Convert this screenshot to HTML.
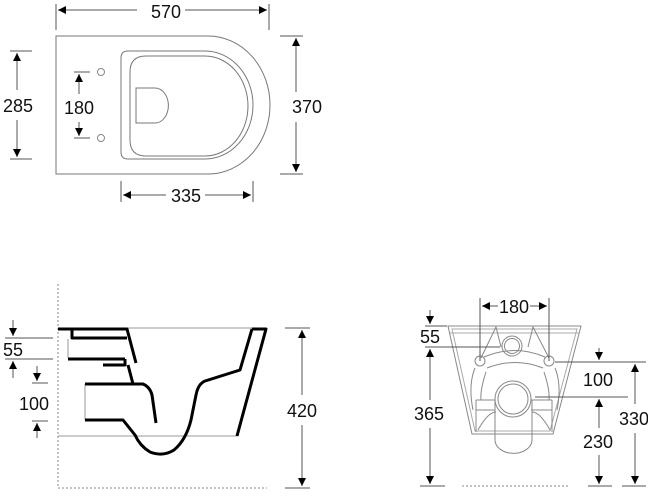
<!DOCTYPE html>
<html><head><style>
html,body{margin:0;padding:0;background:#fff;}
svg{display:block;}
text{font-family:"Liberation Sans",Arial,sans-serif;font-size:18px;fill:#111;text-anchor:middle;}
</style></head><body>
<svg width="648" height="496" viewBox="0 0 648 496" xmlns="http://www.w3.org/2000/svg">
<defs>
<marker id="a" viewBox="0 0 10 10" refX="10" refY="5" markerWidth="11" markerHeight="8" orient="auto-start-reverse" markerUnits="userSpaceOnUse"><path d="M0,0 L10,5 L0,10 z" fill="#000"/></marker>
</defs>
<g stroke="#555" stroke-width="1" fill="none">
<path d="M56,36 H208 A62,69 0 0 1 208,174 H56 Z" stroke="#777"/>
<path d="M128,51 H205 A48,54 0 0 1 205,159 H128 Q121,159 121,152 V58 Q121,51 128,51 Z" stroke="#777"/>
<path d="M146,56 H205 A43,50 0 0 1 205,156 H146 Q130,156 130,140 V72 Q130,56 146,56 Z" stroke="#777"/>
<path d="M136,88 H155 A13,17 0 0 1 155,123 H136 Z" stroke="#777"/>
<circle cx="101" cy="72" r="3.5" stroke="#888"/>
<circle cx="101" cy="138" r="3.5" stroke="#888"/>
<line x1="56" y1="4" x2="56" y2="30"/><line x1="269" y1="4" x2="269" y2="30"/>
<line x1="58" y1="10" x2="137" y2="10" marker-start="url(#a)"/><line x1="185" y1="10" x2="267" y2="10" marker-end="url(#a)"/>
<line x1="10" y1="51" x2="32" y2="51"/><line x1="10" y1="159" x2="32" y2="159"/>
<line x1="17" y1="53" x2="17" y2="90" marker-start="url(#a)"/><line x1="17" y1="120" x2="17" y2="157" marker-end="url(#a)"/>
<line x1="74" y1="72" x2="90" y2="72"/><line x1="74" y1="138" x2="90" y2="138"/>
<line x1="79" y1="74" x2="79" y2="94" marker-start="url(#a)"/><line x1="79" y1="122" x2="79" y2="136" marker-end="url(#a)"/>
<line x1="280" y1="36" x2="303" y2="36"/><line x1="280" y1="174" x2="303" y2="174"/>
<line x1="296" y1="38" x2="296" y2="92" marker-start="url(#a)"/><line x1="296" y1="122" x2="296" y2="172" marker-end="url(#a)"/>
<line x1="121" y1="181" x2="121" y2="202"/><line x1="253" y1="181" x2="253" y2="202"/>
<line x1="123" y1="195" x2="166" y2="195" marker-start="url(#a)"/><line x1="205" y1="195" x2="251" y2="195" marker-end="url(#a)"/>

<line x1="58" y1="284" x2="58" y2="488" stroke-dasharray="2,2" stroke="#888"/>
<line x1="58" y1="488" x2="267" y2="488" stroke-dasharray="2,2" stroke="#888"/>
<line x1="58" y1="328" x2="266" y2="328" stroke="#999"/>
<line x1="58" y1="436" x2="237" y2="436" stroke="#999"/>
<line x1="68" y1="339" x2="68" y2="358" stroke="#999"/>
<line x1="85" y1="384" x2="85" y2="420" stroke="#999"/>
<line x1="5" y1="338" x2="53" y2="338"/><line x1="5" y1="359" x2="53" y2="359"/>
<line x1="13" y1="320" x2="13" y2="336" marker-end="url(#a)"/><line x1="13" y1="378" x2="13" y2="361" marker-end="url(#a)"/>
<line x1="32" y1="383" x2="48" y2="383"/><line x1="32" y1="421" x2="48" y2="421"/>
<line x1="37" y1="366" x2="37" y2="381" marker-end="url(#a)"/><line x1="37" y1="438" x2="37" y2="423" marker-end="url(#a)"/>
<line x1="285" y1="328" x2="310" y2="328"/><line x1="285" y1="488" x2="310" y2="488"/>
<line x1="302" y1="330" x2="302" y2="395" marker-start="url(#a)"/><line x1="302" y1="425" x2="302" y2="486" marker-end="url(#a)"/>

<path d="M448,326 H581 L553,434 H472 Z" stroke="#888"/>
<path d="M452,329 H577 L550,431 H475 Z" stroke="#aaa"/>
<line x1="450" y1="333" x2="579" y2="333" stroke="#aaa"/>
<path d="M481,358 L496,327 L501,347 M549,358 L533,327 L528,347" stroke="#888"/>
<path d="M484,357 Q515,344 545,357 M487,368 Q515,357 543,368" stroke="#888"/>
<circle cx="512" cy="346" r="10" stroke="#888"/><circle cx="512" cy="346" r="7.5" stroke="#888"/>
<circle cx="480" cy="361" r="5" stroke="#888"/><circle cx="549" cy="361" r="5" stroke="#888"/>
<path d="M475,368 Q468,385 473,410 M486,372 Q480,390 481,400 M555,368 Q562,385 557,410 M544,372 Q550,390 549,400" stroke="#888"/>
<path d="M476,400 H495 M476,410 H495 M531,400 H552 M531,410 H552 M476,400 V432 M552,400 V432" stroke="#888"/>
<path d="M478,430 Q488,412 496,412 M550,430 Q540,412 532,412" stroke="#888"/>
<path d="M495,400 V440 A18,13 0 0 0 532,440 V400" stroke="#888"/>
<circle cx="513" cy="399" r="18" stroke="#888" fill="#fff"/><circle cx="513" cy="399" r="15" stroke="#888"/>
<line x1="480" y1="298" x2="480" y2="361"/><line x1="549" y1="298" x2="549" y2="361"/>
<line x1="482" y1="306" x2="498" y2="306" marker-start="url(#a)"/><line x1="530" y1="306" x2="547" y2="306" marker-end="url(#a)"/>
<line x1="425" y1="326" x2="447" y2="326"/><line x1="425" y1="347" x2="500" y2="347"/>
<line x1="430" y1="310" x2="430" y2="324" marker-end="url(#a)"/>
<line x1="430" y1="349" x2="430" y2="400" marker-start="url(#a)"/><line x1="430" y1="428" x2="430" y2="484" marker-end="url(#a)"/>
<line x1="420" y1="486" x2="445" y2="486"/>
<line x1="462" y1="486" x2="568" y2="486" stroke-dasharray="2,2" stroke="#888"/>
<line x1="555" y1="362" x2="646" y2="362"/><line x1="535" y1="397" x2="628" y2="397"/>
<line x1="588" y1="486" x2="612" y2="486"/><line x1="622" y1="486" x2="646" y2="486"/>
<line x1="599" y1="348" x2="599" y2="360" marker-end="url(#a)"/><line x1="599" y1="399" x2="599" y2="428" marker-start="url(#a)"/>
<line x1="599" y1="455" x2="599" y2="484" marker-end="url(#a)"/>
<line x1="635" y1="364" x2="635" y2="404" marker-start="url(#a)"/><line x1="635" y1="433" x2="635" y2="484" marker-end="url(#a)"/>
</g>
<g stroke="#000" stroke-width="3" fill="none" stroke-linejoin="round">
<path d="M58,329 H127 L136,363"/>
<path d="M72,329 V338 H127"/>
<path d="M68,359 H125"/>
<path d="M103,365 H125 V359"/>
<path d="M128,365 L133,384"/>
<path d="M85,384 H143 Q150,387 152,395 L156,423"/>
<path d="M252,329 H266 L237,436"/>
<path d="M252,329 L240,370 L205,381 Q198,384 196,395 L191,420 Q186,440 174,450 Q163,457 150,452 Q140,446 135,435 L123,420 H85"/>
</g>
<text x="166" y="18">570</text>
<text x="18" y="112">285</text>
<text x="79" y="114">180</text>
<text x="307" y="113">370</text>
<text x="186" y="202">335</text>
<text x="13" y="356">55</text>
<text x="34" y="410">100</text>
<text x="302" y="417">420</text>
<text x="514" y="313">180</text>
<text x="430" y="343">55</text>
<text x="429" y="420">365</text>
<text x="598" y="386">100</text>
<text x="598" y="448">230</text>
<text x="634" y="425">330</text>
</svg>
</body></html>
